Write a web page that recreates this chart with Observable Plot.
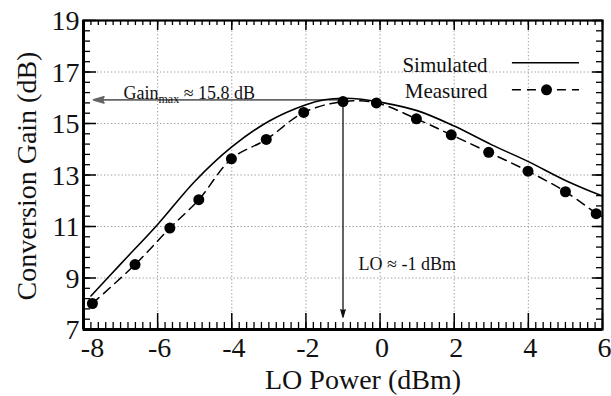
<!DOCTYPE html>
<html>
<head>
<meta charset="utf-8">
<script src="https://cdn.jsdelivr.net/npm/d3@7"></script>
<script src="https://cdn.jsdelivr.net/npm/@observablehq/plot@0.6"></script>
<style>
  html, body { margin: 0; padding: 0; background: #fff; }
  #chart svg { display: block; }
  #chart svg, #chart svg text { font-family: "Liberation Serif", "DejaVu Serif", serif !important; }
</style>
</head>
<body>
<div id="chart"></div>
<script>
// ---- data ----
const measuredX    = [-7.76, -6.61, -5.67, -4.89, -4.01, -3.07, -2.06, -1.0, -0.1, 0.98, 1.92, 2.93, 3.99, 5.0, 5.83];
const measuredGain = [8.01, 9.52, 10.94, 12.04, 13.63, 14.38, 15.43, 15.85, 15.80, 15.18, 14.56, 13.88, 13.15, 12.35, 11.50];

const simulatedX    = [-7.8, -7, -6, -5, -4, -3, -2, -1.5, -1, -0.5, 0, 1, 2, 3, 4, 5, 6];
const simulatedGain = [8.30, 9.54, 11.08, 12.75, 14.09, 15.09, 15.73, 15.92, 15.98, 15.94, 15.83, 15.50, 14.90, 14.18, 13.52, 12.79, 12.18];

const xTickLabels = [-8, -6, -4, -2, 0, 2, 4, 6];
const yTickLabels = [7, 9, 11, 13, 15, 17, 19];
const xGrid = [-6, -4, -2, 0, 2, 4];
const yGrid = [9, 11, 13, 15, 17];

const peakLO = [-1.0];         // dBm
const peakGain = [15.92];      // dB (arrow level)
const arrowEndX = [-7.73];
const arrowEndGain = [7.48];

const seriesNames = ["Simulated", "Measured"];
const gainLabel = ["Gain_max \u2248 15.8 dB"];
const loLabel = ["LO \u2248 -1 dBm"];

// ---- build tables ----
const measured = measuredX.map((x, i) => ({x, gain: measuredGain[i]}));
const simulated = simulatedX.map((x, i) => ({x, gain: simulatedGain[i]}));

const xMinor = d3.range(-8, 6.0001, 0.2).map(v => +v.toFixed(2));
const yMinor = d3.range(7, 19.0001, 0.4).map(v => +v.toFixed(2));

const W = 611, H = 396, mL = 83, mR = 9, mT = 20, mB = 67;
const PW = W - mL - mR, PH = H - mT - mB;
const serif = "Liberation Serif";

// legend rows placed in data space
const legendTextX = 2.90;
const legendY = [17.1, 16.12];
const legendLineY = [17.36, 16.31];
const legendLine = [3.57, 5.38];
const legendDot = 4.49;

const T = {fontFamily: serif, fill: "#111"};

const plot = Plot.plot({
  width: W, height: H,
  marginLeft: mL, marginRight: mR, marginTop: mT, marginBottom: mB,
  x: {domain: [-8, 6], axis: null},
  y: {domain: [7, 19], axis: null},
  style: {fontFamily: serif, background: "#fff"},
  marks: [
    // dotted grid
    Plot.ruleX(xGrid, {x: d => d, stroke: "#9a9a9a", strokeWidth: 1, strokeDasharray: "1.3,2.2"}),
    Plot.ruleY(yGrid, {y: d => d, stroke: "#9a9a9a", strokeWidth: 1, strokeDasharray: "1.3,2.2"}),

    // inward ticks: bottom
    Plot.ruleX(xMinor, {x: d => d, insetTop: PH - 7, stroke: "#000", strokeWidth: 1.3}),
    Plot.ruleX(xTickLabels, {x: d => d, insetTop: PH - 16, stroke: "#000", strokeWidth: 1.5}),
    // top
    Plot.ruleX(xMinor, {x: d => d, insetBottom: PH - 5, stroke: "#000", strokeWidth: 1.3}),
    Plot.ruleX(xTickLabels, {x: d => d, insetBottom: PH - 10, stroke: "#000", strokeWidth: 1.5}),
    // left
    Plot.ruleY(yMinor, {y: d => d, insetRight: PW - 7, stroke: "#000", strokeWidth: 1.3}),
    Plot.ruleY(yTickLabels, {y: d => d, insetRight: PW - 13, stroke: "#000", strokeWidth: 1.5}),
    // right
    Plot.ruleY(yMinor, {y: d => d, insetLeft: PW - 6, stroke: "#000", strokeWidth: 1.3}),
    Plot.ruleY(yTickLabels, {y: d => d, insetLeft: PW - 10, stroke: "#000", strokeWidth: 1.5}),

    // frame
    Plot.frame({stroke: "#000", strokeWidth: 2.2}),
    Plot.ruleX([-8], {stroke: "#000", strokeWidth: 3}),
    Plot.ruleY([7], {stroke: "#000", strokeWidth: 3}),

    // annotations: arrows (head subpath filled -> solid triangle)
    Plot.arrow([0], {x1: () => peakLO[0], y1: () => peakGain[0], x2: () => arrowEndX[0], y2: () => peakGain[0],
      stroke: "#666", fill: "#666", strokeWidth: 1.8, headLength: 9, headAngle: 32}),
    Plot.arrow([0], {x1: () => peakLO[0], y1: () => measuredGain[7], x2: () => peakLO[0], y2: () => arrowEndGain[0],
      stroke: "#111", fill: "#111", strokeWidth: 1.3, headLength: 9, headAngle: 32}),

    // simulated
    Plot.line(simulated, {x: "x", y: "gain", curve: "catmull-rom", stroke: "#000", strokeWidth: 1.6}),
    // measured
    Plot.line(measured, {x: "x", y: "gain", curve: "catmull-rom", stroke: "#000", strokeWidth: 1.5, strokeDasharray: "9,6"}),
    Plot.dot(measured, {x: "x", y: "gain", r: 5.5, fill: "#000", stroke: "none"}),

    // annotation labels
    Plot.text(gainLabel, {...T, x: () => -6.92, y: () => 16.08, text: d => d, textAnchor: "start", lineAnchor: "bottom", dy: 3, fontSize: 18}),
    Plot.text(loLabel, {...T, x: () => -0.58, y: () => 9.41, text: d => d, textAnchor: "start", lineAnchor: "bottom", dy: 3, fontSize: 18}),

    // legend
    Plot.text(seriesNames, {...T, x: () => legendTextX, y: (d, i) => legendY[i], text: d => d, textAnchor: "end", lineAnchor: "bottom", dy: 3, fontSize: 21}),
    Plot.ruleY([legendLineY[0]], {x1: legendLine[0], x2: legendLine[1], y: d => d, stroke: "#000", strokeWidth: 1.6}),
    Plot.ruleY([legendLineY[1]], {x1: legendLine[0], x2: legendLine[1], y: d => d, stroke: "#000", strokeWidth: 1.5, strokeDasharray: "9,6"}),
    Plot.dot([legendLineY[1]], {x: () => legendDot, y: d => d, r: 5.5, fill: "#000"}),

    // tick labels
    Plot.text(xTickLabels.filter(d => d !== -8), {...T, x: d => d, frameAnchor: "bottom", textAnchor: "middle", lineAnchor: "top", dy: 8, dx: 2, text: d => String(d), fontSize: 28}),
    Plot.text(xTickLabels.filter(d => d === -8), {...T, x: d => d, frameAnchor: "bottom", textAnchor: "middle", lineAnchor: "top", dy: 8, dx: 9, text: d => String(d), fontSize: 28}),
    Plot.text(yTickLabels, {...T, y: d => d, frameAnchor: "left", textAnchor: "end", dx: -4, dy: 1, text: d => String(d), fontSize: 28}),

    // axis titles
    Plot.text(["LO Power (dBm)"], {...T, frameAnchor: "bottom", textAnchor: "middle", lineAnchor: "top", dy: 40, dx: 20, text: d => d, fontSize: 28}),
    Plot.text(["Conversion Gain (dB)"], {...T, frameAnchor: "left", textAnchor: "middle", rotate: -90, dx: -56, dy: 1, text: d => d, fontSize: 28})
  ]
});

// subscript for "Gain_max"
plot.querySelectorAll("text").forEach(t => {
  if (t.textContent.startsWith("Gain_max")) {
    const ns = "http://www.w3.org/2000/svg";
    const rest = t.textContent.replace("Gain_max", "");
    t.textContent = "";
    const a = document.createElementNS(ns, "tspan"); a.textContent = "Gain";
    const b = document.createElementNS(ns, "tspan"); b.textContent = "max"; b.setAttribute("font-size", "12"); b.setAttribute("dy", "4");
    const c = document.createElementNS(ns, "tspan"); c.textContent = rest; c.setAttribute("dy", "-4");
    t.append(a, b, c);
  }
});

document.getElementById("chart").appendChild(plot);
</script>
</body>
</html>
